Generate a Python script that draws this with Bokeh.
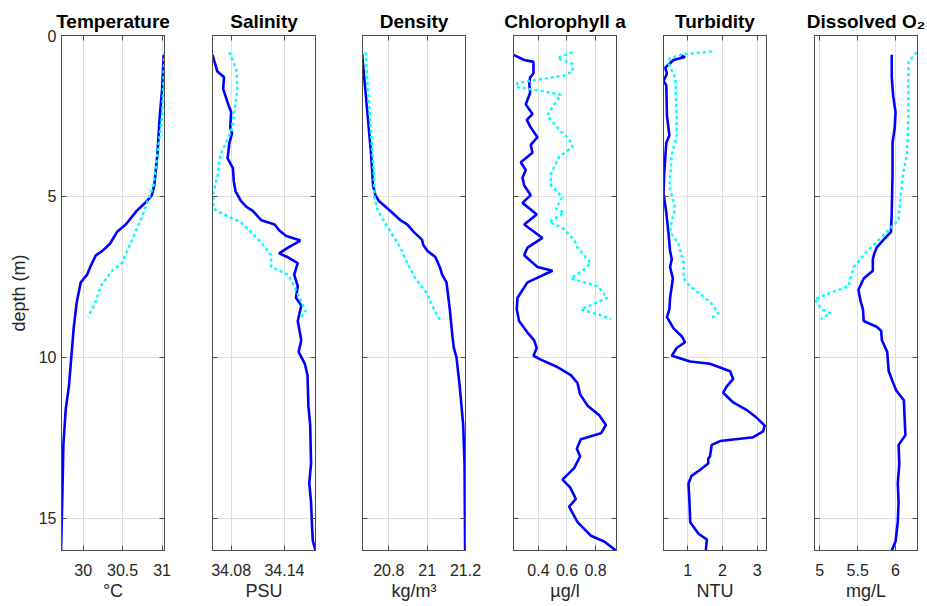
from bokeh.plotting import figure
from bokeh.layouts import row
from bokeh.models import Range1d, FixedTicker, LinearAxis
from bokeh.embed import file_html
from bokeh.resources import INLINE

FONT = "Liberation Sans"

# ---------------- data (depth in m) ----------------
temp_d1 = [0.6, 1.66, 2.5, 3.7, 4.66, 4.96, 5.14, 5.44, 5.87, 6.1, 6.47, 6.7, 6.83, 7.19, 7.43, 7.67, 8.27, 9.1, 10.0, 10.9, 11.6, 12.7, 13.9, 15.0, 16.0]
temp_v1 = [31.02, 31.0, 30.97, 30.94, 30.90, 30.87, 30.81, 30.68, 30.54, 30.43, 30.34, 30.24, 30.16, 30.09, 30.05, 29.97, 29.92, 29.88, 29.85, 29.82, 29.78, 29.75, 29.74, 29.73, 29.72]
temp_d2 = [0.52, 2.5, 3.7, 4.66, 5.0, 5.6, 6.35, 7.07, 7.3, 7.8, 8.27, 8.75]
temp_v2 = [31.03, 31.0, 30.94, 30.89, 30.84, 30.75, 30.62, 30.49, 30.37, 30.22, 30.16, 30.06]

sal_d1 = [0.6, 1.12, 1.3, 1.66, 2.08, 2.38, 2.86, 3.04, 3.34, 3.82, 4.12, 4.54, 4.84, 5.14, 5.32, 5.44, 5.56, 5.74, 5.87, 6.05, 6.23, 6.37, 6.59, 6.77, 6.89, 7.07, 7.43, 7.79, 8.15, 8.39, 8.87, 9.47, 9.83, 10.2, 10.55, 11.5, 12.1, 13.3, 13.9, 14.5, 15.2, 15.7, 16.0]
sal_v1 = [34.059, 34.0645, 34.072, 34.071, 34.076, 34.080, 34.079, 34.081, 34.078, 34.076, 34.082, 34.083, 34.085, 34.091, 34.097, 34.104, 34.108, 34.114, 34.129, 34.134, 34.142, 34.158, 34.144, 34.134, 34.144, 34.155, 34.151, 34.155, 34.153, 34.159, 34.155, 34.159, 34.156, 34.163, 34.166, 34.167, 34.169, 34.170, 34.168, 34.170, 34.171, 34.172, 34.175]
sal_d2 = [0.52, 1.06, 1.66, 2.5, 2.98, 3.46, 3.7, 4.3, 4.9, 5.38, 5.62, 5.8, 6.1, 6.47, 6.83, 7.19, 7.43, 7.79, 8.27, 8.57, 8.81]
sal_v2 = [34.078, 34.086, 34.087, 34.083, 34.080, 34.072, 34.068, 34.065, 34.060, 34.060, 34.076, 34.091, 34.102, 34.115, 34.125, 34.125, 34.144, 34.151, 34.159, 34.164, 34.157]

den_d1 = [0.58, 1.18, 2.5, 3.7, 4.66, 4.96, 5.14, 5.32, 5.5, 5.74, 5.87, 6.1, 6.35, 6.5, 6.7, 6.88, 7.19, 7.43, 7.67, 8.5, 9.35, 9.7, 10.0, 10.9, 12.1, 13.3, 16.0]
den_v1 = [20.661, 20.670, 20.690, 20.708, 20.718, 20.730, 20.748, 20.783, 20.817, 20.861, 20.896, 20.930, 20.974, 20.979, 21.003, 21.043, 21.066, 21.078, 21.101, 21.118, 21.132, 21.139, 21.153, 21.170, 21.188, 21.195, 21.198]
den_d2 = [0.52, 2.5, 4.3, 5.0, 5.38, 5.68, 6.1, 6.59, 7.07, 7.55, 8.03, 8.5, 8.87]
den_v2 = [20.678, 20.701, 20.722, 20.725, 20.739, 20.765, 20.809, 20.861, 20.896, 20.939, 21.0, 21.035, 21.07]

chl_d1 = [0.6, 0.76, 0.82, 1.18, 1.3, 1.48, 1.78, 2.14, 2.44, 2.62, 2.86, 3.16, 3.4, 3.64, 3.94, 4.18, 4.42, 4.66, 4.96, 5.2, 5.56, 5.87, 6.29, 6.59, 6.83, 7.19, 7.31, 7.67, 8.15, 8.51, 8.87, 9.23, 9.47, 9.71, 9.95, 10.07, 10.3, 10.55, 10.8, 11.15, 11.5, 11.8, 12.1, 12.36, 12.54, 12.84, 13.08, 13.44, 13.8, 14.04, 14.4, 14.64, 15.12, 15.54, 15.72, 16.0]
chl_v1 = [0.225, 0.30, 0.365, 0.365, 0.342, 0.335, 0.342, 0.311, 0.358, 0.318, 0.346, 0.393, 0.346, 0.358, 0.276, 0.311, 0.288, 0.30, 0.346, 0.288, 0.388, 0.30, 0.428, 0.323, 0.30, 0.393, 0.498, 0.323, 0.253, 0.248, 0.264, 0.323, 0.370, 0.388, 0.365, 0.416, 0.533, 0.627, 0.674, 0.692, 0.744, 0.826, 0.873, 0.838, 0.697, 0.669, 0.692, 0.65, 0.568, 0.622, 0.662, 0.615, 0.674, 0.767, 0.861, 0.943]
chl_d2 = [0.52, 0.7, 0.88, 1.12, 1.24, 1.48, 1.6, 1.72, 1.84, 2.38, 2.5, 2.98, 3.22, 3.46, 3.76, 4.3, 4.66, 5.02, 5.38, 5.5, 5.8, 5.98, 6.35, 6.59, 7.07, 7.31, 7.55, 7.79, 8.15, 8.51, 8.69, 8.81]
chl_v2 = [0.639, 0.533, 0.639, 0.639, 0.58, 0.253, 0.241, 0.416, 0.557, 0.475, 0.463, 0.557, 0.615, 0.639, 0.545, 0.487, 0.487, 0.568, 0.522, 0.58, 0.475, 0.568, 0.65, 0.674, 0.767, 0.709, 0.627, 0.814, 0.884, 0.697, 0.837, 0.908]

tur_d1 = [0.6, 0.67, 0.76, 1.0, 1.18, 1.42, 1.54, 2.5, 3.1, 3.34, 4.3, 4.9, 5.5, 6.1, 6.7, 6.95, 7.19, 7.55, 8.15, 8.51, 8.75, 9.1, 9.35, 9.53, 9.71, 9.95, 10.13, 10.2, 10.43, 10.67, 10.91, 11.1, 11.4, 11.63, 11.87, 12.12, 12.3, 12.48, 12.6, 12.72, 13.08, 13.14, 13.3, 13.5, 13.68, 13.92, 14.52, 15.12, 15.48, 15.66, 16.0]
tur_v1 = [0.78, 0.92, 0.59, 0.35, 0.40, 0.30, 0.38, 0.40, 0.47, 0.38, 0.32, 0.30, 0.38, 0.44, 0.49, 0.54, 0.49, 0.57, 0.49, 0.47, 0.40, 0.59, 0.83, 0.92, 0.68, 0.54, 1.07, 1.64, 2.22, 2.31, 2.12, 2.02, 2.31, 2.69, 2.98, 3.22, 3.17, 2.89, 1.93, 1.69, 1.64, 1.59, 1.59, 1.35, 1.11, 1.02, 1.05, 1.07, 1.31, 1.55, 1.52]
tur_d2 = [0.5, 0.58, 0.7, 0.88, 1.3, 2.5, 3.1, 3.7, 4.66, 5.38, 5.74, 6.1, 6.47, 7.07, 7.55, 7.79, 8.15, 8.39, 8.63, 8.81]
tur_v2 = [1.69, 0.88, 0.49, 0.45, 0.64, 0.68, 0.68, 0.54, 0.47, 0.64, 0.54, 0.49, 0.73, 0.88, 0.88, 1.07, 1.50, 1.74, 1.88, 1.64]

oxy_d1 = [0.6, 1.3, 1.9, 2.38, 2.86, 3.34, 4.3, 5.5, 6.1, 6.35, 6.59, 6.77, 6.95, 7.31, 7.55, 7.9, 8.27, 8.51, 8.87, 9.05, 9.17, 9.47, 9.83, 10.43, 10.8, 11.03, 11.33, 12.42, 12.72, 13.3, 13.9, 14.5, 15.1, 15.72, 16.0]
oxy_v1 = [5.95, 5.95, 5.97, 6.0, 5.99, 5.96, 5.96, 5.95, 5.94, 5.84, 5.75, 5.72, 5.70, 5.70, 5.58, 5.51, 5.54, 5.57, 5.58, 5.75, 5.81, 5.82, 5.89, 5.91, 5.97, 6.01, 6.11, 6.13, 6.04, 6.05, 6.03, 6.04, 6.03, 6.0, 5.95]
oxy_d2 = [0.52, 0.82, 1.3, 2.5, 3.7, 4.3, 4.9, 5.74, 5.99, 6.35, 6.71, 7.19, 7.79, 8.03, 8.2, 8.51, 8.63, 8.81]
oxy_v2 = [6.28, 6.17, 6.17, 6.17, 6.15, 6.10, 6.07, 6.04, 5.93, 5.78, 5.62, 5.45, 5.38, 5.10, 4.93, 5.03, 5.14, 5.01]

titles = ["Temperature", "Salinity", "Density", "Chlorophyll a", "Turbidity", "Dissolved O\u2082"]
xlabels = ["\u00b0C", "PSU", "kg/m\u00b3", "\u00b5g/l", "NTU", "mg/L"]
xranges = [(29.726, 31.03), (34.059, 34.175), (20.663, 21.2), (0.225, 0.947), (0.30, 3.27), (4.93, 6.29)]
xticks = [[30, 30.5, 31], [34.08, 34.14], [20.8, 21, 21.2], [0.4, 0.6, 0.8], [1, 2, 3], [5, 5.5, 6]]
xticklabels = [["30", "30.5", "31"], ["34.08", "34.14"], ["20.8", "21", "21.2"], ["0.4", "0.6", "0.8"], ["1", "2", "3"], ["5", "5.5", "6"]]
yticks = [0, 5, 10, 15]
ylabel = "depth (m)"

series = [
    (temp_d1, temp_v1, temp_d2, temp_v2),
    (sal_d1, sal_v1, sal_d2, sal_v2),
    (den_d1, den_v1, den_d2, den_v2),
    (chl_d1, chl_v1, chl_d2, chl_v2),
    (tur_d1, tur_v1, tur_d2, tur_v2),
    (oxy_d1, oxy_v1, oxy_d2, oxy_v2),
]

# ---------------- layout ----------------
border_left = [61, 24, 24, 24, 24, 24]
border_right = [24, 23, 24, 23, 24, 9]
FW, FH = 103, 515
TOP, BOTTOM = 35, 55
AX = "#262626"
BOX = "#4d4d4d"


def style_axis(ax, labels=True, standoff=5, label_standoff=2):
    ax.major_tick_in = 5
    ax.major_tick_out = 0
    ax.minor_tick_line_color = None
    ax.axis_line_color = BOX
    ax.major_tick_line_color = BOX
    ax.major_label_text_font = FONT
    ax.axis_label_text_font = FONT
    ax.axis_label_text_font_style = "normal"
    ax.axis_label_text_color = AX
    if labels:
        ax.major_label_text_color = AX
        ax.major_label_text_font_size = "16px"
        ax.major_label_standoff = standoff
        ax.axis_label_text_font_size = "18px"
        ax.axis_label_standoff = label_standoff
    else:
        # tick marks only: labels are not drawn
        ax.major_label_text_color = None
        ax.major_label_text_font_size = "1px"
        ax.major_label_standoff = 0


figs = []
for i in range(6):
    bl, br = border_left[i], border_right[i]
    p = figure(width=bl + FW + br, height=TOP + FH + BOTTOM, frame_width=FW, frame_height=FH,
               min_border_left=bl, min_border_right=br, min_border_top=TOP, min_border_bottom=BOTTOM,
               x_range=Range1d(*xranges[i]), y_range=Range1d(16, 0),
               output_backend="svg", toolbar_location=None, title=titles[i])
    p.title.text_font = FONT
    p.title.text_font_size = "19px"
    p.title.text_font_style = "bold"
    p.title.text_color = "black"
    p.title.align = "center"
    if "standoff" in p.title.properties():
        p.title.standoff = 7
    p.outline_line_color = BOX
    p.outline_line_width = 1
    p.background_fill_color = "white"
    p.border_fill_color = "white"

    xt = FixedTicker(ticks=xticks[i])
    yt = FixedTicker(ticks=yticks)

    xa = p.xaxis[0]
    xa.ticker = xt
    xa.major_label_overrides = {t: l for t, l in zip(xticks[i], xticklabels[i])}
    xa.axis_label = xlabels[i]
    style_axis(xa, True, standoff=13, label_standoff=2)

    ya = p.yaxis[0]
    ya.ticker = yt
    if i == 0:
        ya.axis_label = ylabel
        style_axis(ya, True, standoff=5, label_standoff=7)
    else:
        style_axis(ya, False)

    ra = LinearAxis(ticker=FixedTicker(ticks=yticks))
    style_axis(ra, False)
    p.add_layout(ra, "right")
    ta = LinearAxis(ticker=FixedTicker(ticks=xticks[i]))
    style_axis(ta, False)
    p.add_layout(ta, "above")

    p.xgrid.ticker = xt
    p.ygrid.ticker = yt
    p.xgrid.grid_line_color = "#dedede"
    p.ygrid.grid_line_color = "#dedede"

    d1, v1, d2, v2 = series[i]
    p.line(v1, d1, line_color="#0000ff", line_width=2.6)
    p.line(v2, d2, line_color="#00ffff", line_width=2.5, line_dash="3 3")
    figs.append(p)

layout = row(figs)
open("out.html", "w").write(file_html(layout, INLINE))
